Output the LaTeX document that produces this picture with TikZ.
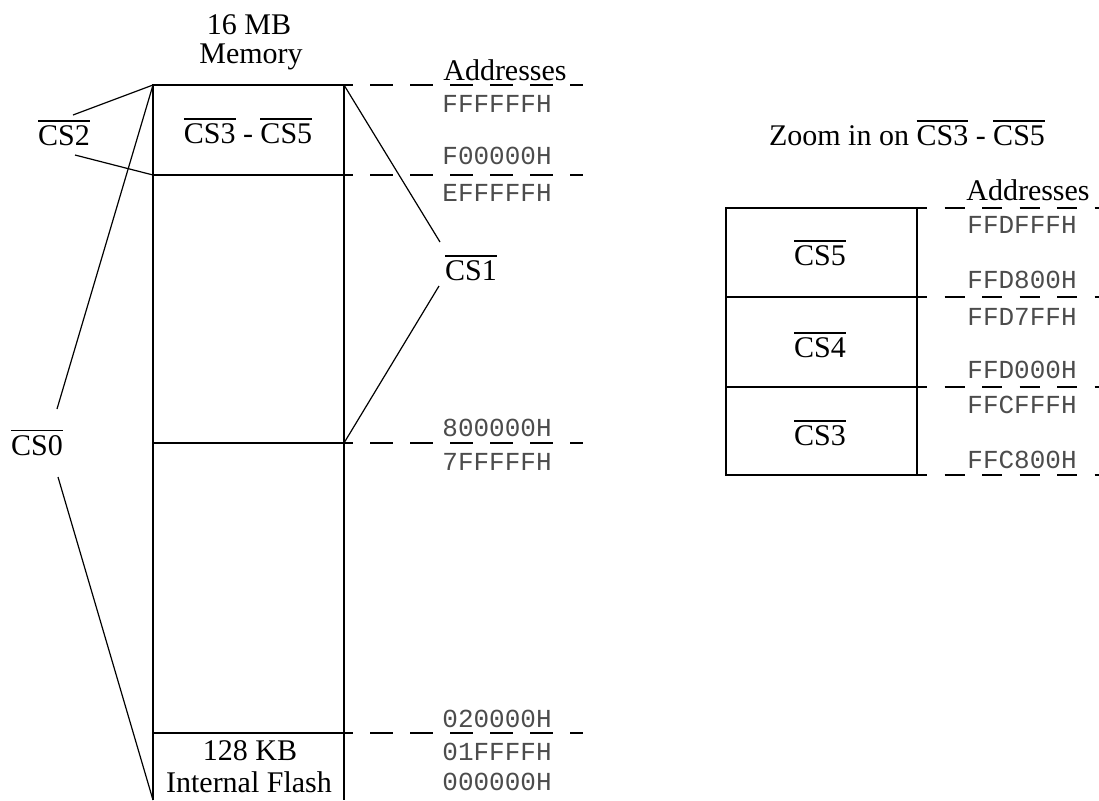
\documentclass[tikz,border=0pt]{standalone}
\usepackage{fontspec}
\setmainfont{Liberation Serif}
\setmonofont{Liberation Mono}
\usetikzlibrary{positioning}
\newcommand{\nbar}[1]{\leavevmode\vbox{\hrule height 0.9pt\kern 1.8pt\hbox{#1}}}

\begin{document}
\begin{tikzpicture}[x=0.5pt,y=-0.5pt,
  lbl/.style={font=\fontsize{15}{17}\selectfont,inner sep=0pt,anchor=base},
  addr/.style={font=\fontsize{13}{14}\selectfont\ttfamily,text=black!70,inner sep=0pt,anchor=base west},
  memline/.style={line width=1.3pt},
  ptr/.style={line width=0.6pt},
  addrline/.style={line width=1pt,dash pattern=on 11.5pt off 8.5pt,dash phase=7pt},
  zoomline/.style={line width=1pt,dash pattern=on 10pt off 8.75pt,dash phase=5pt}]
  \useasboundingbox (0,0) rectangle (1099,800);
  % 16 MB memory map
  \coordinate (mtl) at (153,85);
  \coordinate (mtr) at (344,85);
  \coordinate (mf0) at (153,175);
  \coordinate (m80) at (344,443);
  \coordinate (mbl) at (153,800);
  \draw[memline] (153,800) -- (mtl) -- (mtr) -- (344,800);
  \foreach \y in {175,443,733} \draw[memline] (153,\y) -- (344,\y);
  \foreach \y in {85,175,443,733} \draw[addrline] (344,\y) -- (583,\y);
  \node[lbl] (size) at (249,34) {16 MB};
  \node[lbl] (mem) at (251,63) {Memory};
  \node[lbl] (hdr) at (505,80) {Addresses};
  \node[lbl] (cs35) at (248,143) {\nbar{CS3} - \nbar{CS5}};
  \node[lbl] (flashsize) at (250,760) {128 KB};
  \node[lbl] (flash) at (249,792) {Internal Flash};
  \foreach \a/\y [count=\i] in {FFFFFFH/112,F00000H/164,EFFFFFH/201,800000H/436,7FFFFFH/470,020000H/727,01FFFFH/760,000000H/790}
    \node[addr] (addr\i) at (442,\y) {\a};
  % chip selects
  \node[lbl] (cs2) at (64,145) {\nbar{CS2}};
  \node[lbl] (cs0) at (37,455) {\nbar{CS0}};
  \node[lbl] (cs1) at (471,280) {\nbar{CS1}};
  \coordinate (cs2a) at (73,115);
  \coordinate (cs2b) at (75,155);
  \coordinate (cs0a) at (57,409);
  \coordinate (cs0b) at (58,477);
  \coordinate (cs1a) at (440,242);
  \coordinate (cs1b) at (439,286);
  \draw[ptr] (cs2a) -- (mtl);
  \draw[ptr] (cs2b) -- (mf0);
  \draw[ptr] (cs0a) -- (mtl);
  \draw[ptr] (cs0b) -- (mbl);
  \draw[ptr] (cs1a) -- (mtr);
  \draw[ptr] (cs1b) -- (m80);
  % zoom on CS3 - CS5
  \node[lbl] (zoomhdr) at (907,145) {Zoom in on \nbar{CS3} - \nbar{CS5}};
  \node[lbl] (hdr2) at (1028,200) {Addresses};
  \draw[memline] (726,208) rectangle (917,475);
  \foreach \y in {297,387} \draw[memline] (726,\y) -- (917,\y);
  \foreach \y in {208,297,387,475} \draw[zoomline] (917,\y) -- (1099,\y);
  \node[lbl] (cs5) at (820,265) {\nbar{CS5}};
  \node[lbl] (cs4) at (820,357) {\nbar{CS4}};
  \node[lbl] (cs3) at (820,445) {\nbar{CS3}};
  \foreach \a/\y [count=\i] in {FFDFFFH/233,FFD800H/288,FFD7FFH/325,FFD000H/378,FFCFFFH/413,FFC800H/468}
    \node[addr] (zaddr\i) at (967,\y) {\a};
\end{tikzpicture}
\end{document}
